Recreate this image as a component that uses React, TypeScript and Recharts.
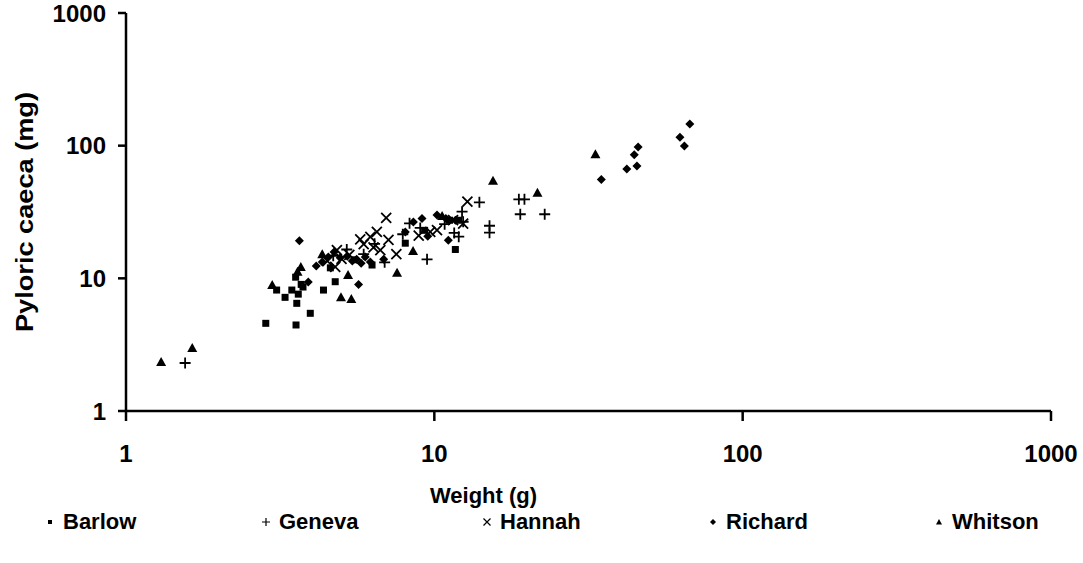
import { ScatterChart, Scatter, XAxis, YAxis, Legend } from 'recharts';

// weights (g) and pyloric caeca (mg) per site
const barlowWeight = [2.84, 3.56, 3.96, 3.28, 3.08, 3.45, 4.37, 4.77, 3.58, 3.62, 3.7, 3.55, 3.75, 6.28, 8.05, 11.7, 11.2, 12.0, 5.5, 4.6, 9.3];
const barlowCaeca = [4.58, 4.45, 5.45, 7.19, 8.16, 8.16, 8.16, 9.43, 6.48, 7.6, 9.0, 10.2, 8.6, 12.6, 18.4, 16.5, 27.4, 27.4, 13.8, 12.0, 23.0];

const genevaWeight = [1.555, 18.8, 19.6, 19.0, 22.8, 15.1, 15.1, 14.0, 9.47, 8.31, 12.0, 12.3, 12.4, 5.2, 5.9, 6.9, 7.9, 9.0, 10.8, 11.6, 4.7, 6.4];
const genevaCaeca = [2.3, 39.4, 39.4, 30.4, 30.4, 24.9, 22.1, 37.4, 13.9, 26.0, 20.6, 31.8, 26.7, 16.5, 15.2, 13.2, 21.5, 24.0, 25.6, 22.0, 14.8, 18.2];

const hannahWeight = [6.98, 6.51, 5.75, 6.35, 7.53, 4.83, 4.77, 12.8, 10.2, 9.7, 12.4, 6.68, 5.9, 4.5, 5.3, 8.9, 7.1, 11.5, 6.2, 5.0];
const hannahCaeca = [28.6, 22.4, 19.7, 17.1, 15.2, 16.3, 12.2, 37.8, 23.1, 22.4, 25.8, 16.3, 18.1, 13.5, 15.0, 21.0, 19.5, 27.5, 20.5, 14.0];

const richardWeight = [67.4, 62.6, 64.7, 45.8, 44.5, 45.4, 42.1, 34.8, 3.65, 5.68, 9.12, 11.1, 6.85, 4.14, 4.33, 4.53, 4.73, 4.95, 5.22, 5.42, 5.6, 5.79, 5.97, 6.2, 8.05, 8.55, 9.52, 10.2, 10.9, 11.7, 3.9];
const richardCaeca = [145.5, 115.5, 99.3, 97.6, 85.4, 70.2, 66.6, 55.7, 19.2, 9.0, 28.3, 19.4, 13.9, 12.4, 13.3, 14.5, 15.8, 14.3, 14.7, 13.5, 13.9, 13.0, 14.5, 13.3, 22.3, 26.6, 20.8, 30.0, 28.3, 27.4, 9.4];

const whitsonWeight = [1.3, 1.64, 2.98, 3.69, 4.33, 5.25, 4.98, 5.38, 15.5, 21.6, 8.53, 7.57, 33.3, 10.6, 3.6];
const whitsonCaeca = [2.34, 2.98, 8.9, 12.2, 15.2, 10.6, 7.19, 6.98, 54.4, 44.2, 16.1, 11.0, 86.0, 29.5, 11.2];

const axisTicks = [1, 10, 100, 1000];
const seriesNames = ['Barlow', 'Geneva', 'Hannah', 'Richard', 'Whitson'];

const toPoints = (w: number[], c: number[]) => w.map((x, i) => ({ weight: x, caeca: c[i] }));

function SquareDot({ cx, cy }: any) {
  return <rect x={cx - 3.5} y={cy - 3.5} width={7} height={7} fill="#000" />;
}

function PlusDot({ cx, cy }: any) {
  return <path d={`M${cx - 5.5},${cy}H${cx + 5.5}M${cx},${cy - 5.5}V${cy + 5.5}`} stroke="#000" strokeWidth={1.8} fill="none" />;
}

function CrossDot({ cx, cy }: any) {
  return (
    <path
      d={`M${cx - 5},${cy - 5}L${cx + 5},${cy + 5}M${cx - 5},${cy + 5}L${cx + 5},${cy - 5}`}
      stroke="#000"
      strokeWidth={1.8}
      fill="none"
    />
  );
}

function DiamondDot({ cx, cy }: any) {
  return <polygon points={`${cx},${cy - 4.5} ${cx + 4.5},${cy} ${cx},${cy + 4.5} ${cx - 4.5},${cy}`} fill="#000" />;
}

function TriangleDot({ cx, cy }: any) {
  return <polygon points={`${cx},${cy - 5} ${cx + 5},${cy + 4} ${cx - 5},${cy + 4}`} fill="#000" />;
}

function XTitle({ viewBox }: any) {
  const x = viewBox.x + viewBox.width / 2 - 105;
  return (
    <text x={x} y={viewBox.y + 92} textAnchor="middle" fontSize={22} fontWeight={700} fill="#000">
      Weight (g)
    </text>
  );
}

function YTitle({ viewBox }: any) {
  const cy = viewBox.y + viewBox.height / 2;
  return (
    <text
      x={24}
      y={cy}
      transform={`rotate(-90, 24, ${cy})`}
      textAnchor="middle"
      dominantBaseline="central"
      fontSize={24}
      fontWeight={700}
      fill="#000"
      textLength={240}
      lengthAdjust="spacingAndGlyphs"
    >
      Pyloric caeca (mg)
    </text>
  );
}

const legendMarks = [
  <rect x={3} y={3} width={4} height={4} fill="#000" />,
  <path d="M1,5H9M5,1V9" stroke="#000" strokeWidth={1.2} />,
  <path d="M1.5,1.5L8.5,8.5M1.5,8.5L8.5,1.5" stroke="#000" strokeWidth={1.2} />,
  <polygon points="5,2 8,5 5,8 2,5" fill="#000" />,
  <polygon points="5,2 8,7.5 2,7.5" fill="#000" />,
];
const legendLeft = [45, 261, 482, 708, 934];

function LegendRow() {
  return (
    <div style={{ position: 'relative', height: 36, width: 1083 }}>
      {seriesNames.map((name, i) => (
        <div
          key={name}
          style={{ position: 'absolute', left: legendLeft[i], top: 0, height: 36, display: 'flex', alignItems: 'center' }}
        >
          <svg width={10} height={10} style={{ marginRight: 8 }}>
            {legendMarks[i]}
          </svg>
          <span style={{ fontSize: 22, fontWeight: 700, color: '#000' }}>{name}</span>
        </div>
      ))}
    </div>
  );
}

export default function App() {
  const axisStroke = { stroke: '#000', strokeWidth: 2.5 };
  const tickStyle = { fill: '#000', fontSize: 24, fontWeight: 700 };
  return (
    <div style={{ width: 1083, height: 563, background: '#fff', fontFamily: '"Liberation Sans", Arial, sans-serif' }}>
      <style>{'body{margin:0}'}</style>
      <ScatterChart width={1083} height={563} margin={{ top: 13, right: 32, left: 0, bottom: 23 }}>
        <XAxis
          type="number"
          dataKey="weight"
          scale="log"
          domain={[1, 1000]}
          ticks={axisTicks}
          allowDataOverflow
          height={93}
          tickSize={10}
          tickMargin={24}
          axisLine={axisStroke}
          tickLine={axisStroke}
          tick={tickStyle}
          label={<XTitle />}
        />
        <YAxis
          type="number"
          dataKey="caeca"
          scale="log"
          domain={[1, 1000]}
          ticks={axisTicks}
          allowDataOverflow
          width={126}
          tickSize={8}
          tickMargin={12}
          axisLine={axisStroke}
          tickLine={axisStroke}
          tick={tickStyle}
          label={<YTitle />}
        />
        <Legend
          verticalAlign="bottom"
          align="left"
          height={36}
          wrapperStyle={{ left: 0, width: 1083 }}
          content={() => <LegendRow />}
        />
        <Scatter name="Barlow" data={toPoints(barlowWeight, barlowCaeca)} shape={SquareDot} isAnimationActive={false} />
        <Scatter name="Geneva" data={toPoints(genevaWeight, genevaCaeca)} shape={PlusDot} isAnimationActive={false} />
        <Scatter name="Hannah" data={toPoints(hannahWeight, hannahCaeca)} shape={CrossDot} isAnimationActive={false} />
        <Scatter name="Richard" data={toPoints(richardWeight, richardCaeca)} shape={DiamondDot} isAnimationActive={false} />
        <Scatter name="Whitson" data={toPoints(whitsonWeight, whitsonCaeca)} shape={TriangleDot} isAnimationActive={false} />
      </ScatterChart>
    </div>
  );
}
